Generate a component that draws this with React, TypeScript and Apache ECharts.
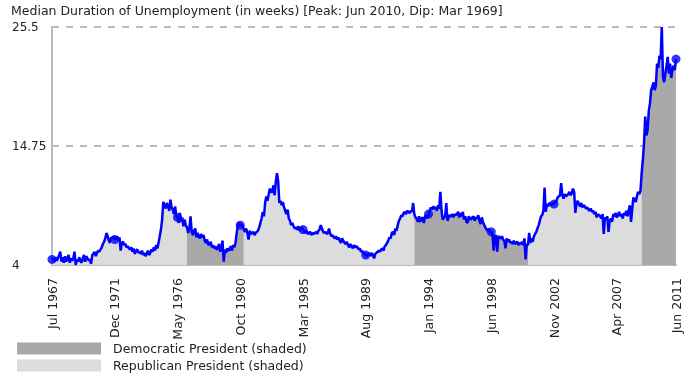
import React, { useEffect, useRef } from "react";
import * as echarts from "echarts";

// ---- data ----
const START_YEAR = 1967;
const START_MONTH = 6; // July (0-based)
const MONTH_NAMES = ["Jan", "Feb", "Mar", "Apr", "May", "Jun", "Jul", "Aug", "Sep", "Oct", "Nov", "Dec"];

// Median duration of unemployment (weeks), monthly, Jul 1967 - Jun 2011
const medianWeeks: number[] = [
  /*1967*/ 4.5, 4.6, 4.3, 4.7, 4.4, 4.6,
  /*1968*/ 4.9, 5.2, 4.3, 4.7, 4.2, 4.8, 4.3, 4.6, 4.9, 4.2, 4.6, 4.4,
  /*1969*/ 4.6, 5.2, 4.0, 4.5, 4.3, 4.7, 4.4, 4.2, 4.6, 4.9, 4.3, 4.8,
  /*1970*/ 4.6, 4.4, 4.5, 4.1, 4.9, 5.0, 5.2, 4.8, 5.1, 5.3, 5.2, 5.4,
  /*1971*/ 5.6, 5.9, 6.1, 6.4, 6.9, 6.6, 6.2, 6.0, 6.5, 6.4, 6.6, 6.3,
  /*1972*/ 6.4, 6.6, 6.2, 6.5, 5.3, 6.0, 6.1, 5.8, 5.9, 5.6, 5.7, 5.5,
  /*1973*/ 5.4, 5.6, 5.2, 5.5, 5.0, 5.3, 5.4, 5.1, 5.2, 5.0, 5.3, 4.9,
  /*1974*/ 5.1, 4.8, 5.0, 5.3, 4.9, 5.1, 5.4, 5.2, 5.6, 5.3, 5.8, 5.5,
  /*1975*/ 6.0, 6.6, 7.2, 8.1, 9.7, 9.4, 9.1, 9.6, 9.3, 8.9, 9.9, 9.2,
  /*1976*/ 9.0, 8.6, 9.3, 8.4, 8.3, 7.8, 8.7, 7.9, 8.3, 7.5, 8.1, 7.6,
  /*1977*/ 7.4, 6.9, 7.3, 8.4, 7.0, 6.7, 7.1, 7.3, 6.5, 6.9, 6.6, 6.4,
  /*1978*/ 6.8, 6.5, 6.7, 6.2, 6.0, 6.3, 5.8, 5.9, 6.1, 5.6, 5.8, 5.5,
  /*1979*/ 5.7, 5.4, 5.5, 5.9, 5.2, 5.6, 6.2, 4.3, 5.4, 5.1, 5.5, 5.3,
  /*1980*/ 5.4, 5.7, 5.3, 5.8, 5.6, 6.0, 6.9, 7.6, 7.8, 7.6, 7.7, 7.5,
  /*1981*/ 7.2, 7.0, 7.3, 6.9, 6.3, 7.1, 6.8, 6.9, 7.0, 6.7, 6.9, 7.0,
  /*1982*/ 7.1, 7.4, 7.8, 8.2, 8.8, 8.4, 9.6, 10.2, 9.8, 10.4, 10.9, 10.6,
  /*1983*/ 10.6, 11.2, 10.3, 11.5, 12.3, 11.6, 9.6, 9.8, 9.4, 9.7, 9.2, 8.9,
  /*1984*/ 8.6, 9.0, 8.2, 8.0, 7.6, 7.8, 7.5, 7.3, 7.4, 7.2, 7.5, 7.1,
  /*1985*/ 7.3, 7.4, 7.2, 7.0, 6.9, 7.1, 6.8, 6.9, 7.0, 6.7, 6.9, 6.8,
  /*1986*/ 6.9, 7.0, 6.8, 7.1, 7.2, 7.6, 7.3, 7.0, 6.9, 7.0, 6.8, 6.9,
  /*1987*/ 7.3, 6.8, 6.6, 6.7, 6.5, 6.4, 6.6, 6.3, 6.5, 6.2, 6.0, 6.4,
  /*1988*/ 6.2, 6.0, 5.9, 6.1, 5.8, 5.6, 5.9, 5.7, 5.5, 5.8, 5.6, 5.7,
  /*1989*/ 5.6, 5.4, 5.5, 5.2, 5.3, 5.0, 5.1, 4.9, 4.8, 5.0, 5.1, 4.8,
  /*1990*/ 5.1, 4.9, 4.6, 5.0, 5.1, 5.2, 5.3, 5.2, 5.4, 5.5, 5.3, 5.7,
  /*1991*/ 5.8, 6.0, 6.2, 6.5, 6.4, 6.9, 7.0, 6.7, 7.3, 7.1, 7.6, 8.0,
  /*1992*/ 8.2, 8.5, 8.4, 8.7, 8.8, 8.6, 8.9, 8.8, 8.7, 8.9, 8.8, 9.6,
  /*1993*/ 8.6, 8.3, 8.2, 7.9, 8.4, 7.9, 8.2, 8.3, 7.8, 8.4, 8.5, 8.2,
  /*1994*/ 8.6, 8.9, 9.2, 9.0, 9.3, 9.1, 9.2, 8.9, 9.4, 9.1, 10.6, 8.9,
  /*1995*/ 8.1, 8.3, 8.4, 9.6, 8.0, 8.3, 8.5, 8.4, 8.6, 8.3, 8.6, 8.5,
  /*1996*/ 8.6, 8.8, 8.3, 8.7, 8.4, 8.8, 8.1, 8.4, 7.9, 7.8, 8.4, 8.2,
  /*1997*/ 8.1, 8.3, 8.4, 8.0, 8.3, 8.2, 8.5, 8.0, 7.7, 8.3, 7.9, 7.6,
  /*1998*/ 7.4, 7.2, 7.1, 7.3, 7.0, 7.0, 6.8, 5.3, 6.6, 6.7, 5.2, 6.6,
  /*1999*/ 6.5, 6.4, 6.6, 6.3, 6.2, 5.5, 6.4, 6.1, 6.3, 6.0, 6.1, 5.9,
  /*2000*/ 6.2, 5.9, 6.0, 6.1, 5.8, 6.0, 5.9, 6.1, 5.8, 6.4, 4.5, 5.9,
  /*2001*/ 5.8, 6.9, 6.0, 6.4, 6.1, 6.6, 6.8, 7.0, 7.3, 7.6, 8.0, 8.4,
  /*2002*/ 8.5, 8.9, 11.0, 8.8, 9.5, 9.3, 9.6, 9.5, 9.4, 9.6, 9.5, 9.7,
  /*2003*/ 9.8, 10.1, 10.2, 10.3, 11.4, 10.3, 10.0, 10.4, 10.2, 10.3, 10.4, 10.6,
  /*2004*/ 10.3, 10.5, 10.9, 10.6, 8.7, 9.6, 9.8, 9.5, 9.3, 9.6, 9.2, 9.4,
  /*2005*/ 9.3, 9.1, 9.2, 9.0, 8.9, 9.1, 8.8, 8.9, 8.6, 8.8, 8.3, 8.6,
  /*2006*/ 8.5, 8.4, 8.2, 8.6, 6.8, 8.3, 8.1, 8.4, 7.0, 8.0, 8.2, 7.9,
  /*2007*/ 8.6, 8.4, 8.7, 8.3, 8.5, 8.8, 8.4, 8.6, 8.2, 8.7, 8.5, 8.9,
  /*2008*/ 8.4, 8.9, 9.4, 7.9, 9.0, 10.1, 9.9, 9.7, 10.2, 10.6, 10.4, 10.7,
  /*2009*/ 12.3, 13.5, 15.0, 17.4, 15.7, 16.2, 17.9, 18.6, 19.8, 20.1, 20.5, 19.8,
  /*2010*/ 20.2, 22.2, 21.8, 22.9, 22.6, 25.5, 21.0, 20.5, 21.3, 22.0, 22.8, 21.3,
  /*2011*/ 22.2, 20.9, 21.7, 22.0, 21.6, 22.6,
];

const categories: string[] = medianWeeks.map((_, i) => {
  const t = START_MONTH + i;
  return `${MONTH_NAMES[t % 12]} ${START_YEAR + Math.floor(t / 12)}`;
});

const tickLabels = ["Jul 1967", "Dec 1971", "May 1976", "Oct 1980", "Mar 1985", "Aug 1989", "Jan 1994", "Jun 1998", "Nov 2002", "Apr 2007", "Jun 2011"];
const markerLabels = ["Jul 1967", "Dec 1971", "May 1976", "Oct 1980", "Mar 1985", "Aug 1989", "Jan 1994", "Jun 1998", "Nov 2002", "Jun 2011"];

const DEM = "Democratic President (shaded)";
const REP = "Republican President (shaded)";
const presidencies = [
  { party: REP, from: "Jul 1967", to: "Jan 1977" },
  { party: DEM, from: "Jan 1977", to: "Jan 1981" },
  { party: REP, from: "Jan 1981", to: "Jan 1993" },
  { party: DEM, from: "Jan 1993", to: "Jan 2001" },
  { party: REP, from: "Jan 2001", to: "Jan 2009" },
  { party: DEM, from: "Jan 2009", to: "Jun 2011" },
];

const Y_MIN = 4;
const Y_MAX = 25.5;
const Y_STEP = 10.75;
const TITLE = "Median Duration of Unemployment (in weeks) [Peak: Jun 2010, Dip: Mar 1969]";

// ---- styles ----
const FONT = "DejaVu Sans";
const TEXT_COLOR = "#222";
const AXIS_COLOR = "#bbbbbb";
const partyColor: Record<string, string> = { [DEM]: "#a9a9a9", [REP]: "#dcdcdc" };

export default function App() {
  const ref = useRef<HTMLDivElement>(null);

  useEffect(() => {
    if (!ref.current) return;
    const chart = echarts.init(ref.current, null, { renderer: "svg" });

    const tickSet = new Set(tickLabels.map((l) => categories.indexOf(l)));

    const areaSeries = presidencies.map((p) => {
      const a = categories.indexOf(p.from);
      const b = categories.indexOf(p.to);
      return {
        type: "line",
        name: p.party,
        data: medianWeeks.map((v, i) => (i >= a && i <= b ? v : null)),
        symbol: "none",
        showSymbol: false,
        connectNulls: false,
        lineStyle: { width: 0, opacity: 0 },
        itemStyle: { color: partyColor[p.party] },
        areaStyle: { color: partyColor[p.party], opacity: 1 },
        z: 1,
        silent: true,
      };
    });

    chart.setOption({
      animation: false,
      title: {
        text: TITLE,
        left: 11,
        top: 4,
        padding: 0,
        textStyle: { fontFamily: FONT, fontSize: 12.5, fontWeight: "normal", color: TEXT_COLOR },
      },
      legend: {
        orient: "vertical",
        left: 17,
        top: 342,
        padding: 0,
        itemWidth: 84,
        itemHeight: 12,
        itemGap: 4,
        icon: "rect",
        selectedMode: false,
        data: [
          { name: DEM, itemStyle: { color: partyColor[DEM] } },
          { name: REP, itemStyle: { color: partyColor[REP] } },
        ],
        textStyle: { fontFamily: FONT, fontSize: 12.5, color: TEXT_COLOR, padding: [0, 0, 0, 7] },
      },
      grid: { left: 52, right: 11, top: 27, bottom: 110, containLabel: false },
      xAxis: {
        type: "category",
        data: categories,
        boundaryGap: false,
        axisLine: { show: true, onZero: false, lineStyle: { color: AXIS_COLOR, width: 2 } },
        axisTick: { show: false },
        splitLine: { show: false },
        axisLabel: {
          interval: (index: number) => tickSet.has(index),
          rotate: 90,
          margin: 13,
          fontFamily: FONT,
          fontSize: 12.5,
          color: TEXT_COLOR,
        },
      },
      yAxis: {
        type: "value",
        min: Y_MIN,
        max: Y_MAX,
        interval: Y_STEP,
        axisLine: { show: true, lineStyle: { color: AXIS_COLOR, width: 2 } },
        axisTick: { show: false },
        axisLabel: {
          align: "left",
          margin: 40,
          fontFamily: FONT,
          fontSize: 12,
          color: TEXT_COLOR,
          formatter: (v: number) => String(v),
        },
        splitLine: { show: true, lineStyle: { color: AXIS_COLOR, width: 2, type: [7, 7] } },
      },
      series: [
        ...areaSeries,
        {
          type: "line",
          name: "Median Duration",
          data: medianWeeks,
          symbol: "none",
          showSymbol: false,
          lineStyle: { color: "#0000ff", width: 2.5 },
          itemStyle: { color: "#0000ff" },
          z: 3,
        },
        {
          type: "scatter",
          name: "Markers",
          data: markerLabels.map((l) => {
            const i = categories.indexOf(l);
            return [i, medianWeeks[i]];
          }),
          symbol: "circle",
          symbolSize: 9,
          itemStyle: { color: "#0000ff" },
          z: 4,
        },
      ],
    });

    return () => chart.dispose();
  }, []);

  return <div ref={ref} style={{ position: "fixed", left: 0, top: 0, width: 687, height: 375 }} />;
}
